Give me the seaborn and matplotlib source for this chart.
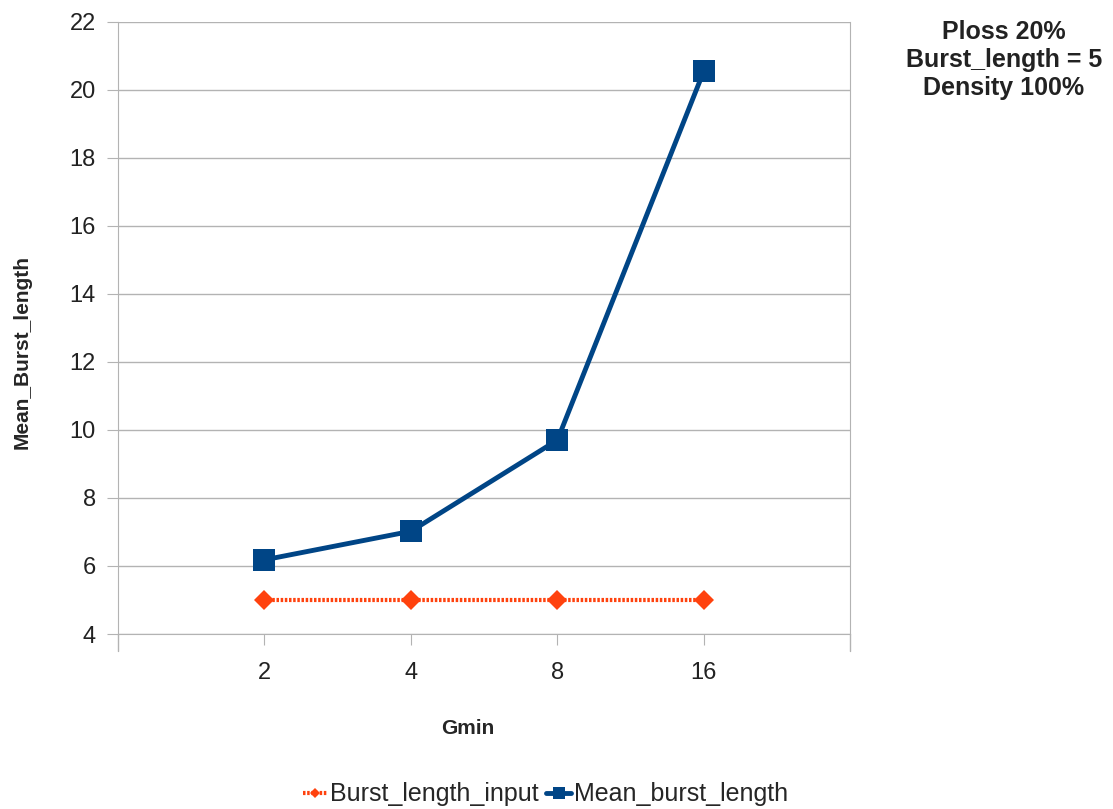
import numpy as np
import pandas as pd
import seaborn as sns
import matplotlib.pyplot as plt

gmin = ["2", "4", "8", "16"]
burst_length_input = [5, 5, 5, 5]
mean_burst_length = [6.18, 7.02, 9.7, 20.55]

sns.set_style("white")
plt.rcParams['font.family'] = ['Liberation Sans', 'DejaVu Sans']

df = pd.DataFrame({
    "Gmin": list(range(len(gmin))) * 2,
    "value": burst_length_input + mean_burst_length,
    "series": ["Burst_length_input"] * 4 + ["Mean_burst_length"] * 4,
})

fig = plt.figure(figsize=(11.13, 8.09), dpi=100)
ax = fig.add_axes([0.106, 0.2163, 0.658, 0.757])

sns.lineplot(data=df[df.series == "Burst_length_input"], x="Gmin", y="value",
             color="#ff420e", linewidth=3, linestyle=(0, (0.6, 0.4)),
             marker="D", markersize=10, markeredgewidth=0, ax=ax,
             label="Burst_length_input")
sns.lineplot(data=df[df.series == "Mean_burst_length"], x="Gmin", y="value",
             color="#004586", linewidth=3.5, marker="s", markersize=16,
             markeredgewidth=0, ax=ax, label="Mean_burst_length")

ax.set_xlim(-1, 4)
ax.set_ylim(4, 22)
ax.set_yticks(np.arange(4, 23, 2))
ax.set_xticks(range(len(gmin)))
ax.set_xticklabels(gmin)
ax.yaxis.grid(True, color="#b3b3b3", linewidth=1)
ax.set_axisbelow(True)
ax.spines["top"].set_visible(False)
for s in ["left", "right", "bottom"]:
    ax.spines[s].set_color("#b3b3b3")
ax.tick_params(axis="both", labelsize=17, length=8, color="#b3b3b3",
               labelcolor="#222222", direction="out", bottom=True, left=True)
ax.tick_params(axis="x", pad=12)
ax.tick_params(axis="y", pad=8)

# short ticks at the plot ends
for xe in (-1, 4):
    ax.plot([xe, xe], [4, 3.5], color="#b3b3b3", linewidth=1, clip_on=False)

ax.set_xlabel("Gmin", fontsize=15, fontweight="bold")
ax.set_ylabel("Mean_Burst_length", fontsize=15, fontweight="bold")
ax.xaxis.set_label_coords(0.478, -0.138)
ax.yaxis.set_label_coords(-0.118, 0.46)

fig.text(0.902, 0.975, "Ploss 20%\nBurst_length = 5\nDensity 100%",
         ha="center", va="top", fontsize=18, fontweight="bold",
         color="#222222", linespacing=1.2)

ax.get_legend().remove()
handles, labels = ax.get_legend_handles_labels()
fig.legend(handles, labels, loc="center", bbox_to_anchor=(0.49, 0.018),
           ncol=2, frameon=False, fontsize=18, handlelength=1.0,
           handletextpad=0.1, columnspacing=0.3, markerscale=0.55)

fig.savefig("out.png", dpi=100)
